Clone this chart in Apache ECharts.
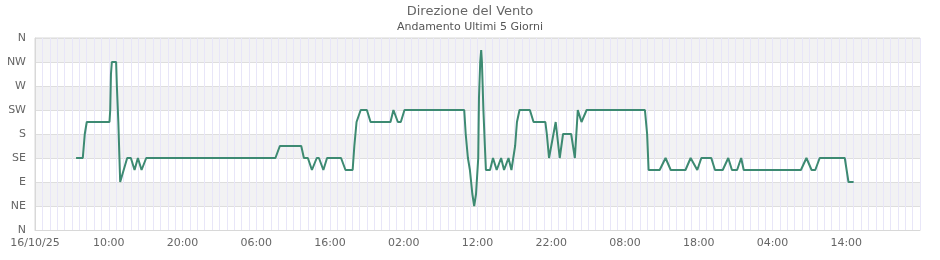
<!DOCTYPE html>
<html>
<head>
<meta charset="utf-8">
<script src="https://cdn.jsdelivr.net/npm/echarts@6/dist/echarts.min.js"></script>
<style>
html,body{margin:0;padding:0;background:#fff;}
#chart{width:940px;height:260px;}
</style>
</head>
<body>
<div id="chart"></div>
<script>
// Hours since 16/10/25 00:00
var hours = [5.57,6.48,6.75,7.02,10.1,10.2,10.3,10.42,11.0,11.1,11.3,11.45,11.55,12.5,13.0,13.5,13.95,14.45,15.08,
  32.6,33.2,36.1,36.46,37.0,37.55,38.2,38.5,39.1,39.6,41.5,42.1,43.07,43.3,43.6,44.16,45.0,45.5,48.2,48.6,49.2,49.6,50.1,
  58.2,58.4,58.7,58.97,59.3,59.55,59.8,60.1,60.2,60.37,60.5,60.6,60.8,61.0,61.14,61.7,62.1,62.6,63.2,63.6,64.2,64.6,
  65.1,65.35,65.7,67.1,67.6,69.2,69.4,69.7,70.6,71.15,71.6,72.7,73.2,73.6,74.1,74.8,82.7,83.0,83.2,84.7,85.5,86.2,
  88.2,88.9,89.8,90.35,91.7,92.2,93.25,94.0,94.5,95.2,95.75,96.1,103.85,104.6,105.3,105.8,106.4,109.8,110.3,111.0];
// Wind direction, degrees
var dirs = [135,135,180,202.5,202.5,225,292.5,315,315,270,202.5,135,90,135,135,112.5,135,112.5,135,
  135,157.5,157.5,135,135,112.5,135,135,112.5,135,135,112.5,112.5,157.5,202.5,225,225,202.5,202.5,225,202.5,202.5,225,
  225,180,135,112.5,67.5,45,67.5,135,247.5,315,337.5,315,225,157.5,112.5,112.5,135,112.5,135,112.5,135,112.5,
  157.5,202.5,225,225,202.5,202.5,180,135,202.5,135,180,180,135,225,202.5,225,225,180,112.5,112.5,135,112.5,
  112.5,135,112.5,135,135,112.5,112.5,135,112.5,112.5,135,112.5,112.5,135,112.5,112.5,135,135,90,90];
var xTickLabels = ['16/10/25','10:00','20:00','06:00','16:00','02:00','12:00','22:00','08:00','18:00','04:00','14:00'];
var yTickLabels = ['N','NE','E','SE','S','SW','W','NW','N'];

var seriesData = hours.map(function(h, i){ return [h, dirs[i]]; });

var chart = echarts.init(document.getElementById('chart'), null, {renderer:'canvas'});
var font = 'DejaVu Sans';
chart.setOption({
  animation: false,
  backgroundColor: '#ffffff',
  textStyle: {fontFamily: font},
  title: {
    text: 'Direzione del Vento',
    subtext: 'Andamento Ultimi 5 Giorni',
    left: 'center',
    top: 0,
    itemGap: 4,
    textStyle: {fontSize: 13, fontWeight: 'normal', color: '#666', fontFamily: font},
    subtextStyle: {fontSize: 11, color: '#555', fontFamily: font}
  },
  grid: {left: 35, right: 20, top: 38, bottom: 30, show: true, borderColor: '#d8d8d8', borderWidth: 1, backgroundColor: 'transparent'},
  xAxis: {
    type: 'value', min: 0, max: 120, interval: 10, splitNumber: 10,
    axisLine: {show: true, lineStyle: {color: '#d8d8d8'}},
    axisTick: {show: false},
    minorTick: {show: false, splitNumber: 10},
    splitLine: {show: true, lineStyle: {color: '#e8e6f8', width: 1}},
    minorSplitLine: {show: true, lineStyle: {color: '#e8e6f8', width: 1}},
    axisLabel: {
      color: '#666', fontSize: 11, margin: 8, showMaxLabel: false,
      formatter: function(v){ var i = Math.round(v/10); return xTickLabels[i] !== undefined ? xTickLabels[i] : ''; }
    }
  },
  yAxis: {
    type: 'value', min: 0, max: 360, interval: 45,
    axisLine: {show: true, lineStyle: {color: '#d8d8d8'}},
    axisTick: {show: false},
    splitLine: {show: true, lineStyle: {color: '#dedede'}},
    splitArea: {show: true, areaStyle: {color: ['#ffffff', '#f2f2f3']}},
    axisLabel: {
      color: '#666', fontSize: 11, margin: 9,
      formatter: function(v){ return yTickLabels[Math.round(v/45)]; }
    }
  },
  series: [{
    type: 'line',
    data: seriesData,
    showSymbol: false,
    symbol: 'none',
    lineStyle: {color: '#3d8a72', width: 2},
    z: 5
  }]
});
</script>
</body>
</html>
